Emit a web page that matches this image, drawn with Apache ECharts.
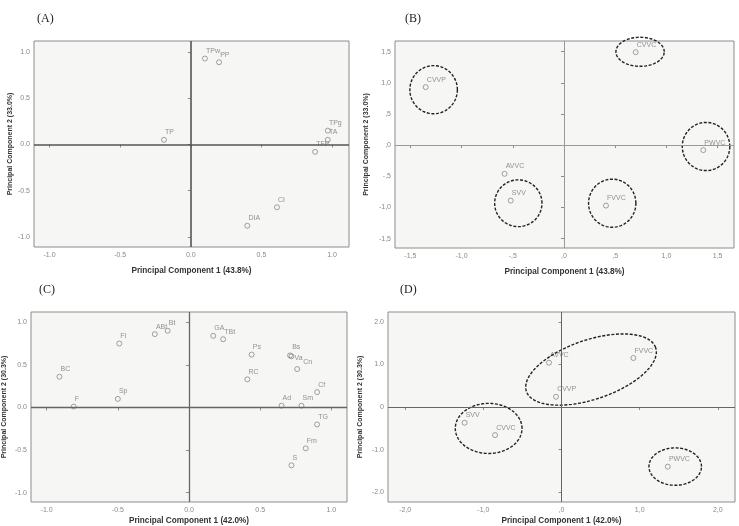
<!DOCTYPE html>
<html>
<head>
<meta charset="utf-8">
<script src="https://cdn.jsdelivr.net/npm/echarts@6/dist/echarts.min.js"></script>
<style>
  html, body { margin: 0; padding: 0; background: #fff; }
  #chart { width: 739px; height: 526px; }
</style>
</head>
<body>
<div id="chart"></div>
<script>
// panel A - variable loadings
const namesA = ['TPw', 'PP', 'TP', 'TPg', 'TA', 'TFP', 'CI', 'DIA'];
const xA = [0.10, 0.20, -0.19, 0.97, 0.97, 0.88, 0.61, 0.40];
const yA = [0.93, 0.89, 0.05, 0.15, 0.05, -0.08, -0.68, -0.88];

// panel B - scores
const namesB = ['CVVC', 'CVVP', 'PWVC', 'AVVC', 'SVV', 'FVVC'];
const xB = [0.70, -1.35, 1.36, -0.58, -0.52, 0.41];
const yB = [1.49, 0.93, -0.08, -0.46, -0.89, -0.97];
// ellipses: [cx, cy, ux, uy, vx, vy] in data units
const ellB = [
  [0.743, 1.497, 0.236, 0, 0, 0.233],
  [-1.273, 0.889, 0.232, 0, 0, 0.386],
  [1.387, -0.022, 0.232, 0, 0, 0.386],
  [-0.446, -0.932, 0.231, 0, 0, 0.375],
  [0.471, -0.932, 0.231, 0, 0, 0.386]
];

// panel C - variable loadings
const namesC = ['BC', 'F', 'Fl', 'Sp', 'ABt', 'Bt', 'GA', 'TBt', 'Ps', 'RC', 'Bs', 'Va', 'Cn', 'Cf', 'Ad', 'Sm', 'TG', 'Fm', 'S'];
const xC = [-0.91, -0.81, -0.49, -0.50, -0.24, -0.15, 0.17, 0.24, 0.44, 0.41, 0.71, 0.72, 0.76, 0.90, 0.65, 0.79, 0.90, 0.82, 0.72];
const yC = [0.36, 0.01, 0.75, 0.10, 0.86, 0.90, 0.84, 0.80, 0.62, 0.33, 0.61, 0.60, 0.45, 0.18, 0.02, 0.02, -0.20, -0.48, -0.68];

// panel D - scores
const namesD = ['AVVC', 'FVVC', 'CVVP', 'SVV', 'CVVC', 'PWVC'];
const xD = [-0.16, 0.92, -0.07, -1.24, -0.85, 1.36];
const yD = [1.04, 1.15, 0.24, -0.37, -0.66, -1.40];
const ellD = [
  [0.378, 0.879, 0.826, 0.519, -0.129, 0.656],
  [-0.932, -0.503, 0.427, 0, 0, 0.588],
  [1.455, -1.398, 0.336, 0, 0, 0.439]
];

// tick values and labels
const ticks1 = [-1, -0.5, 0, 0.5, 1];
const labels1 = ['-1.0', '-0.5', '0.0', '0.5', '1.0'];
const ticksB = [-1.5, -1, -0.5, 0, 0.5, 1, 1.5];
const labelsB = ['-1,5', '-1,0', '-,5', ',0', ',5', '1,0', '1,5'];
const ticksD = [-2, -1, 0, 1, 2];
const labelsDx = ['-2,0', '-1,0', ',0', '1,0', '2,0'];
const labelsDy = ['-2.0', '-1.0', '0', '1.0', '2.0'];

const axisNames = ['Principal Component 1 (43.8%)', 'Principal Component 2 (33.0%)',
  'Principal Component 1 (42.0%)', 'Principal Component 2 (30.3%)'];

const chart = echarts.init(document.getElementById('chart'));

function grid(left, top, width, height) {
  return {
    left: left, top: top, width: width, height: height,
    show: true, backgroundColor: '#f6f6f4', borderColor: '#8c8c8c', borderWidth: 1
  };
}

function axis(kind, idx, min, max, ticks, labels, name, gap) {
  return {
    type: 'value', gridIndex: idx, min: min, max: max,
    name: name, nameLocation: 'middle', nameGap: gap,
    nameTextStyle: {
      fontFamily: 'Liberation Sans', fontWeight: 'bold',
      fontSize: kind === 'x' ? 8.2 : 7, color: '#333'
    },
    axisLine: { show: false },
    splitLine: { show: false },
    axisTick: { show: true, length: 3, customValues: ticks, lineStyle: { color: '#8c8c8c' } },
    axisLabel: {
      customValues: ticks, fontSize: 7, color: '#888', margin: kind === 'x' ? 5 : 4,
      fontFamily: 'Liberation Sans',
      formatter: function (v) {
        for (let i = 0; i < ticks.length; i++) {
          if (Math.abs(ticks[i] - v) < 1e-9) return labels[i];
        }
        return '';
      }
    }
  };
}

const labelPos = { Va: [6, 1], Cn: [9, -8], Bs: [5, -9] };

function scatter(idx, names, xs, ys, zeroColor, zeroWidth) {
  return {
    type: 'scatter', xAxisIndex: idx, yAxisIndex: idx,
    symbol: 'circle', symbolSize: 5,
    itemStyle: { color: 'rgba(0,0,0,0)', borderColor: '#6e6e6e', borderWidth: 0.8 },
    label: {
      show: true, formatter: '{b}', position: [4, -8],
      fontSize: 7, color: '#777', fontFamily: 'Liberation Sans'
    },
    data: names.map(function (n, i) {
      const item = { name: n, value: [xs[i], ys[i]] };
      if (idx === 2 && labelPos[n]) item.label = { position: labelPos[n] };
      return item;
    }),
    markLine: {
      silent: true, symbol: 'none', animation: false,
      label: { show: false },
      lineStyle: { type: 'solid', color: zeroColor, width: zeroWidth },
      data: [{ xAxis: 0 }, { yAxis: 0 }]
    },
    z: 3
  };
}

function ellipses(idx, ells) {
  return {
    type: 'custom', xAxisIndex: idx, yAxisIndex: idx,
    silent: true, z: 4,
    encode: { x: 0, y: 1 },
    renderItem: function (params, api) {
      const cx = api.value(0), cy = api.value(1);
      const ux = api.value(2), uy = api.value(3), vx = api.value(4), vy = api.value(5);
      const pts = [];
      for (let k = 0; k < 90; k++) {
        const t = k / 90 * Math.PI * 2;
        pts.push(api.coord([cx + Math.cos(t) * ux + Math.sin(t) * vx, cy + Math.cos(t) * uy + Math.sin(t) * vy]));
      }
      return {
        type: 'polygon', shape: { points: pts },
        style: { fill: 'none', stroke: '#222', lineWidth: 1.4, lineDash: [3, 1.6] }
      };
    },
    data: ells
  };
}

const titleStyle = { fontFamily: 'Liberation Serif', fontWeight: 'normal', fontSize: 12, color: '#222' };

chart.setOption({
  animation: false,
  title: [
    { text: '(A)', left: 32, top: 8, textStyle: titleStyle },
    { text: '(B)', left: 400, top: 8, textStyle: titleStyle },
    { text: '(C)', left: 34, top: 279, textStyle: titleStyle },
    { text: '(D)', left: 395, top: 279, textStyle: titleStyle }
  ],
  grid: [
    grid(34, 41, 315, 206),
    grid(395, 41, 339, 207),
    grid(31, 312, 316, 191),
    grid(388, 312, 347, 195)
  ],
  xAxis: [
    axis('x', 0, -1.11, 1.12, ticks1, labels1, axisNames[0], 20),
    axis('x', 1, -1.65, 1.66, ticksB, labelsB, axisNames[0], 20),
    axis('x', 2, -1.11, 1.11, ticks1, labels1, axisNames[2], 15),
    axis('x', 3, -2.22, 2.22, ticksD, labelsDx, axisNames[2], 15)
  ],
  yAxis: [
    axis('y', 0, -1.11, 1.12, ticks1, labels1, axisNames[1], 20),
    axis('y', 1, -1.65, 1.67, ticksB, labelsB, axisNames[1], 25),
    axis('y', 2, -1.11, 1.12, ticks1, labels1, axisNames[3], 23),
    axis('y', 3, -2.23, 2.23, ticksD, labelsDy, axisNames[3], 24)
  ],
  series: [
    scatter(0, namesA, xA, yA, '#555', 1.6),
    scatter(1, namesB, xB, yB, '#999', 1),
    scatter(2, namesC, xC, yC, '#666', 1.3),
    scatter(3, namesD, xD, yD, '#666', 1),
    ellipses(1, ellB),
    ellipses(3, ellD)
  ]
});
</script>
</body>
</html>
